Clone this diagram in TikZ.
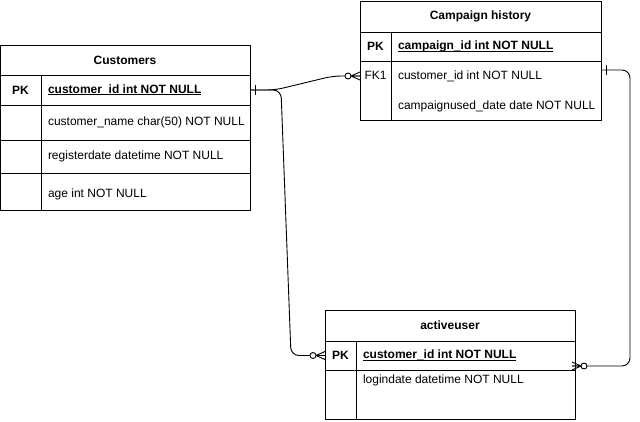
\documentclass[tikz,border=0pt]{standalone}
\usepackage{fontspec}
\setmainfont{Liberation Sans}
\usepackage{tikz}
\usetikzlibrary{positioning}

\newcommand{\pkfield}[1]{\underline{\smash{\textbf{#1}}}}

\begin{document}
\begin{tikzpicture}[
    x=1pt, y=-1pt,
    every node/.style={font=\fontsize{12pt}{14pt}\selectfont},
    cell/.style={draw, line width=0.9pt, inner sep=0pt, outer sep=0pt},
    header/.style={cell, font=\fontsize{12pt}{14pt}\selectfont\bfseries},
    keycell/.style={cell, font=\fontsize{12pt}{14pt}\selectfont\bfseries},
    fieldtext/.style={inner sep=0pt, outer sep=0pt, anchor=west, text height=8.6pt, text depth=2.4pt},
    link/.style={line width=0.9pt, rounded corners=8pt},
    zeromany/.pic={
        \draw[line width=0.9pt] (-9,0) -- (0,-4) (-9,0) -- (0,4) (-9,0) -- (0,0);
        \draw[line width=0.9pt, fill=white] (-12,0) circle[radius=3pt];
    },
    onebar/.pic={
        \draw[line width=0.9pt] (-5,-5) -- (-5,5);
    }
]
\useasboundingbox (0,0) rectangle (640,421);

% Customers
\node[header, minimum width=250pt, minimum height=30pt] (cust) at (125,60) {Customers};
\node[keycell, minimum width=41pt, minimum height=30pt, below right=0pt of cust.south west] (cust-pk) {PK};
\node[cell, minimum width=209pt, minimum height=30pt, right=0pt of cust-pk] (cust-id) {};
\node[fieldtext, right=7pt of cust-id.west] (cust-id-t) {\pkfield{customer\_id int NOT NULL}};
\node[cell, minimum width=41pt, minimum height=35pt, below=0pt of cust-pk] (cust-k2) {};
\node[cell, minimum width=209pt, minimum height=35pt, right=0pt of cust-k2] (cust-name) {};
\node[fieldtext, right=7pt of cust-name.west] (cust-name-t) {customer\_name char(50) NOT NULL};
\node[cell, minimum width=41pt, minimum height=33pt, below=0pt of cust-k2] (cust-k3) {};
\node[cell, minimum width=209pt, minimum height=33pt, right=0pt of cust-k3] (cust-reg) {};
\node[fieldtext, right=7pt of cust-reg.west] (cust-reg-t) {registerdate datetime NOT NULL};
\node[cell, minimum width=41pt, minimum height=37pt, below=0pt of cust-k3] (cust-k4) {};
\node[cell, minimum width=209pt, minimum height=37pt, right=0pt of cust-k4] (cust-age) {};
\node[fieldtext, right=7pt of cust-age.west, yshift=-3pt] (cust-age-t) {age int NOT NULL};

% Campaign history
\node[header, minimum width=241pt, minimum height=31pt] (ch) at (480.5,16.5) {Campaign history};
\node[keycell, minimum width=31pt, minimum height=29pt, below right=0pt of ch.south west] (ch-pk) {PK};
\node[cell, minimum width=210pt, minimum height=29pt, right=0pt of ch-pk] (ch-id) {};
\node[fieldtext, right=7pt of ch-id.west] (ch-id-t) {\pkfield{campaign\_id int NOT NULL}};
\node[cell, minimum width=31pt, minimum height=59pt, below=0pt of ch-pk] (ch-fk) {};
\node[cell, minimum width=210pt, minimum height=59pt, right=0pt of ch-fk] (ch-fk-f) {};
\node[fieldtext, anchor=center] (ch-fk-t) at ([yshift=-15pt]ch-fk.north) {FK1};
\node[fieldtext] (ch-cid-t) at ([xshift=7pt,yshift=-15pt]ch-fk-f.north west) {customer\_id int NOT NULL};
\node[fieldtext] (ch-date-t) at ([xshift=7pt,yshift=-45pt]ch-fk-f.north west) {campaignused\_date date NOT NULL};

% activeuser
\node[header, minimum width=250pt, minimum height=31pt] (au) at (450,325.5) {activeuser};
\node[keycell, minimum width=31pt, minimum height=29pt, below right=0pt of au.south west] (au-pk) {PK};
\node[cell, minimum width=219pt, minimum height=29pt, right=0pt of au-pk] (au-id) {};
\node[fieldtext, right=7pt of au-id.west] (au-id-t) {\pkfield{customer\_id int NOT NULL}};
\node[cell, minimum width=31pt, minimum height=49pt, below=0pt of au-pk] (au-k2) {};
\node[cell, minimum width=219pt, minimum height=49pt, right=0pt of au-k2] (au-login) {};
\node[fieldtext] (au-login-t) at ([xshift=7pt,yshift=-10pt]au-login.north west) {logindate datetime NOT NULL};

% relations
\draw[link] (cust-id.east) -- ++(25,0) -- ([xshift=-27pt,yshift=-15pt]ch-fk.north west) -- ([yshift=-15pt]ch-fk.north west);
\draw[link] (cust-id.east) -- ++(31,0) -- ([xshift=-34pt]au-pk.west) -- (au-pk.west);
\draw[link] ([yshift=-9pt]ch-fk-f.north east) -- ++(29,0) -- ([xshift=55pt,yshift=4pt]au-id.south east) -- ([xshift=-3pt,yshift=4pt]au-id.south east);

\pic[rotate=180] at (cust-id.east) {onebar};
\pic at ([yshift=-15pt]ch-fk.north west) {zeromany};
\pic at (au-pk.west) {zeromany};
\pic[rotate=180] at ([yshift=-9pt]ch-fk-f.north east) {onebar};
\pic[rotate=180] at ([xshift=-3pt,yshift=4pt]au-id.south east) {zeromany};

\end{tikzpicture}
\end{document}
